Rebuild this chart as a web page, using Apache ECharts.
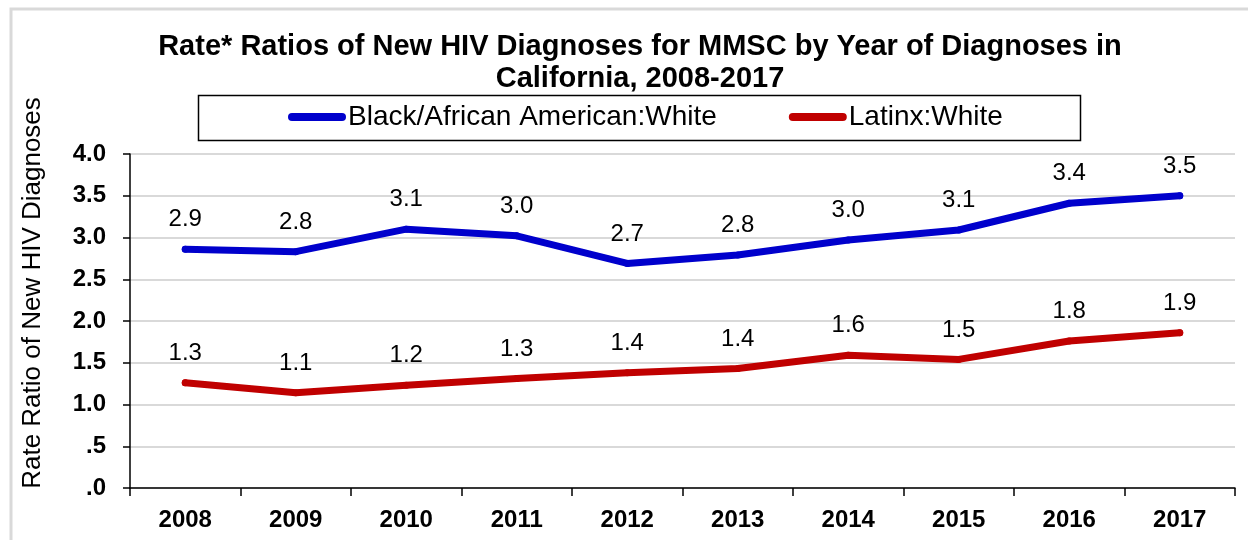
<!DOCTYPE html>
<html>
<head>
<meta charset="utf-8">
<title>Rate Ratios of New HIV Diagnoses for MMSC</title>
<script src="https://cdn.jsdelivr.net/npm/echarts@6/dist/echarts.min.js"></script>
<style>
  html, body { margin: 0; padding: 0; background: #ffffff; }
  #chart { width: 1248px; height: 540px; }
</style>
</head>
<body>
<div id="chart"></div>
<script>
// Diagnosis years
const years = ['2008', '2009', '2010', '2011', '2012', '2013', '2014', '2015', '2016', '2017'];

// Rate ratios relative to White MMSC
const blackWhite = [2.86, 2.83, 3.10, 3.02, 2.69, 2.79, 2.97, 3.09, 3.41, 3.50];
const latinxWhite = [1.26, 1.14, 1.23, 1.31, 1.38, 1.43, 1.59, 1.54, 1.76, 1.86];

// Value axis tick labels, one per 0.5 step
const yTickLabels = ['.0', '.5', '1.0', '1.5', '2.0', '2.5', '3.0', '3.5', '4.0'];

const seriesNames = ['Black/African American:White', 'Latinx:White'];
const FONT = '"Liberation Sans", Arial, sans-serif';

const chart = echarts.init(document.getElementById('chart'), null, { renderer: 'canvas' });

const capsule = 'path://M4,0 H54 A4,4 0 0 1 54,8 H4 A4,4 0 0 1 4,0 Z';

function lineSeries(name, data, color) {
  return {
    name: name,
    type: 'line',
    data: data,
    symbol: 'circle',
    symbolSize: 7,
    showSymbol: true,
    smooth: false,
    lineStyle: { color: color, width: 7, cap: 'round', join: 'round' },
    itemStyle: { color: color, borderWidth: 0 },
    label: {
      show: true,
      position: 'top',
      distance: 14,
      color: '#000000',
      fontFamily: FONT,
      fontSize: 24,
      formatter: p => Number(p.value).toFixed(1)
    },
    emphasis: { disabled: true },
    animation: false
  };
}

chart.setOption({
  backgroundColor: '#ffffff',
  animation: false,
  title: {
    text: 'Rate* Ratios of New HIV Diagnoses for MMSC by Year of Diagnoses in\nCalifornia, 2008-2017',
    left: 635,
    top: 26,
    textAlign: 'center',
    textStyle: {
      fontFamily: FONT,
      fontSize: 29,
      fontWeight: 'bold',
      color: '#000000',
      lineHeight: 32
    }
  },
  legend: {
    data: seriesNames.map(n => ({ name: n, icon: capsule })),
    left: 288,
    top: 103,
    padding: 0,
    itemWidth: 58,
    itemHeight: 8,
    itemGap: 72,
    selectedMode: false,
    textStyle: { fontFamily: FONT, fontSize: 28, color: '#000000', padding: [0, 0, 0, -3] }
  },
  grid: { left: 130, right: 13, top: 154, bottom: 52, containLabel: false },
  xAxis: {
    type: 'category',
    data: years,
    boundaryGap: true,
    axisLine: { lineStyle: { color: '#000000', width: 1.5 } },
    axisTick: { show: true, length: 8, lineStyle: { color: '#000000', width: 1.5 } },
    axisLabel: {
      margin: 20,
      fontFamily: FONT,
      fontSize: 24,
      fontWeight: 'bold',
      color: '#000000'
    },
    splitLine: { show: false }
  },
  yAxis: {
    type: 'value',
    min: 0,
    max: 4,
    interval: 0.5,
    axisLine: { show: true, lineStyle: { color: '#000000', width: 1.5 } },
    axisTick: { show: true, length: 7, lineStyle: { color: '#000000', width: 1.5 } },
    axisLabel: {
      margin: 24,
      fontFamily: FONT,
      fontSize: 24,
      fontWeight: 'bold',
      color: '#000000',
      formatter: v => yTickLabels[Math.round(v / 0.5)]
    },
    splitLine: { show: true, lineStyle: { color: '#d9d9d9', width: 2 } }
  },
  series: [
    lineSeries(seriesNames[0], blackWhite, '#0000cc'),
    lineSeries(seriesNames[1], latinxWhite, '#c00000')
  ],
  graphic: [
    {
      // chart area frame
      type: 'polyline',
      shape: { points: [[11, 540], [11, 9], [1248, 9]] },
      style: { stroke: '#d9d9d9', lineWidth: 3, fill: null },
      silent: true
    },
    {
      // legend frame
      type: 'rect',
      shape: { x: 198.5, y: 95.5, width: 882, height: 45 },
      style: { stroke: '#000000', lineWidth: 1.5, fill: null },
      silent: true
    },
    {
      // value axis title
      type: 'text',
      x: 33,
      y: 293,
      rotation: Math.PI / 2,
      style: {
        text: 'Rate Ratio of New HIV Diagnoses',
        fontFamily: FONT,
        fontSize: 26,
        fill: '#000000',
        align: 'center',
        verticalAlign: 'middle'
      },
      silent: true
    }
  ]
});
</script>
</body>
</html>
